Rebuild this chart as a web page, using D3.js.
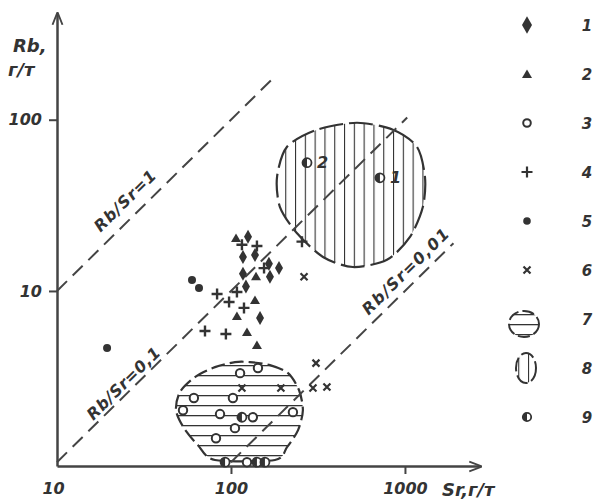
<!DOCTYPE html>
<html>
<head>
<meta charset="utf-8">
<script src="https://cdn.jsdelivr.net/npm/d3@7"></script>
<style>
body { margin: 0; background: #fff; }
text { font-family: "DejaVu Sans", sans-serif; font-style: oblique; font-weight: bold; fill: #333; }
</style>
</head>
<body>
<svg width="597" height="500"></svg>
<script>
// values: [Sr, Rb] in г/т
var diamonds = [[125.3, 20.7], [117.2, 15.8], [137.4, 16.2], [117.2, 12.6], [165.2, 14.4],
                [188.8, 13.6], [167.5, 12.1], [121.9, 10.6], [146.9, 6.95]];
var triangles = [[106.9, 20.4], [139.3, 12.2], [137.4, 8.86], [108.2, 7.14], [123.6, 5.76], [141, 4.83]];
var openCircles = [[112.8, 3.31], [142.9, 3.55], [61.2, 2.37], [102.6, 2.37], [53.0, 2.01], [86.5, 1.91],
                   [133.6, 1.83], [227, 1.96], [105.4, 1.58], [82.0, 1.38], [123.6, 1.0]];
var pluses = [[115.6, 18.6], [141, 18.3], [154.9, 13.6], [83.2, 9.6], [97.5, 8.62], [108.2, 9.87],
              [118.8, 7.96], [70.9, 5.84], [93.5, 5.60], [255.9, 19.4]];
var dots = [[59.7, 11.6], [65.5, 10.4], [19.4, 4.64]];
var crosses = [[263, 12.1], [308, 3.79], [296, 2.71], [356, 2.75], [115.6, 2.71], [193.6, 2.71]];
var halfCircles = [[115.6, 1.83], [92.5, 1.0], [141, 1.0], [156.7, 1.0], [273.5, 56.1], [718, 45.8]];
var halfLabels = ["", "", "", "", "2", "1"];

// outlines of the two hatched fields
var field7 = [[128.5, 3.84], [167.5, 3.69], [212.8, 3.31], [246, 2.64], [259, 2.01], [243, 1.54],
              [210, 1.224], [179, 1.03], [80.9, 1.03], [64.6, 1.257], [53.7, 1.58], [48.3, 2.01],
              [50.9, 2.57], [62.1, 3.14], [80.9, 3.59], [105.4, 3.84]];
var field8 = [[530, 96.0], [853, 87.4], [1172, 69.5], [1303, 46.4], [1268, 31.0], [1069, 20.7],
              [788, 15.2], [502, 13.8], [338, 15.8], [239, 21.8], [191, 31.0], [184, 46.4],
              [210, 69.5], [312, 87.4]];

// Rb/Sr reference lines
var ratios = [1, 0.1, 0.01];
var ratioFrom = [10, 10, 100];
var ratioTo = [174, 1030, 1900];
var ratioLabels = ["Rb/Sr=1", "Rb/Sr=0,1", "Rb/Sr=0,01"];
var ratioLabelAt = [28.8, 26.4, 1148];

var xTicks = [10, 100, 1000];
var yTicks = [10, 100];
var legendLabels = ["1", "2", "3", "4", "5", "6", "7", "8", "9"];

var svg = d3.select("svg");
var ink = "#333";

var x = d3.scaleLog().domain([10, 2700]).range([57, 480]);
var y = d3.scaleLog().domain([0.95, 420]).range([466, 13]);

var defs = svg.append("defs");
defs.append("marker")
    .attr("id", "arrow")
    .attr("viewBox", "0 -5 10 10")
    .attr("refX", 9).attr("refY", 0)
    .attr("markerWidth", 5).attr("markerHeight", 5)
    .attr("orient", "auto")
    .append("path")
    .attr("d", "M0,-4L10,0L0,4")
    .attr("fill", "none").attr("stroke", "#444").attr("stroke-width", 1.5);

var hatchH = defs.append("pattern")
    .attr("id", "hatchH").attr("patternUnits", "userSpaceOnUse")
    .attr("width", 10).attr("height", 10).attr("y", 5);
hatchH.append("line").attr("x1", 0).attr("x2", 10).attr("y1", 0).attr("y2", 0)
    .attr("stroke", ink).attr("stroke-width", 2.6);
var hatchV = defs.append("pattern")
    .attr("id", "hatchV").attr("patternUnits", "userSpaceOnUse")
    .attr("width", 9.8).attr("height", 10).attr("x", 1);
hatchV.append("line").attr("x1", 0).attr("x2", 0).attr("y1", 0).attr("y2", 10)
    .attr("stroke", ink).attr("stroke-width", 2.2);

// fields
var outline = d3.line()
    .x(function(d) { return x(d[0]); })
    .y(function(d) { return y(d[1]); })
    .curve(d3.curveCardinalClosed.tension(0.2));

svg.append("path")
    .attr("d", outline(field7))
    .attr("fill", "url(#hatchH)")
    .attr("stroke", ink).attr("stroke-width", 2.2)
    .attr("stroke-dasharray", "14,5");
svg.append("path")
    .attr("d", outline(field8))
    .attr("fill", "url(#hatchV)")
    .attr("stroke", ink).attr("stroke-width", 2.2)
    .attr("stroke-dasharray", "24,6");

// ratio lines
var lines = svg.append("g").attr("class", "ratios");
ratios.forEach(function(r, i) {
    lines.append("line")
        .attr("x1", x(ratioFrom[i])).attr("y1", y(ratioFrom[i] * r))
        .attr("x2", x(ratioTo[i])).attr("y2", y(ratioTo[i] * r))
        .attr("stroke", "#444").attr("stroke-width", 2)
        .attr("stroke-dasharray", "14,8");
    var s = ratioLabelAt[i],
        px = x(s), py = y(s * r),
        ang = Math.atan2(y(s * 10 * r) - py, x(s * 10) - px) * 180 / Math.PI;
    lines.append("text")
        .attr("transform", "translate(" + px + "," + py + ") rotate(" + ang + ")")
        .attr("y", [-11, -4, -8][i])
        .attr("text-anchor", "middle")
        .attr("font-size", 16)
        .attr("letter-spacing", [1, 0.6, 1.4][i])
        .text(ratioLabels[i]);
});

// axes
var xAxis = svg.append("g")
    .attr("transform", "translate(0," + y.range()[0] + ")")
    .call(d3.axisBottom(x).tickValues(xTicks).tickSize(8).tickSizeOuter(0).tickPadding(9)
          .tickFormat(function(d) { return d; }));
var yAxis = svg.append("g")
    .attr("transform", "translate(" + x.range()[0] + ",0)")
    .call(d3.axisLeft(y).tickValues(yTicks).tickSize(8).tickSizeOuter(0).tickPadding(7)
          .tickFormat(function(d) { return d; }));
[xAxis, yAxis].forEach(function(a) {
    a.select(".domain").attr("stroke", "#444").attr("stroke-width", 2.5).attr("marker-end", "url(#arrow)");
    a.selectAll(".tick line").attr("stroke", "#444").attr("stroke-width", 2);
    a.selectAll(".tick text").attr("font-size", 16).attr("font-family", null).attr("fill", ink);
});
xAxis.selectAll(".tick").filter(function(d) { return d === 10; }).select("line").remove();
xAxis.selectAll(".tick").filter(function(d) { return d === 10; }).select("text").attr("dx", -4);

svg.append("text").attr("x", 13).attr("y", 52).attr("font-size", 18).text("Rb,");
svg.append("text").attr("x", 8).attr("y", 76).attr("font-size", 18).text("г/т");
svg.append("text").attr("x", 442).attr("y", 496).attr("font-size", 18).text("Sr,г/т");

// marker shapes
var shapes = {
    diamond: "M0,-7L4,0L0,7L-4,0Z",
    triangle: "M0,-4.5L5,4L-5,4Z",
    plus: "M-5.5,0H5.5M0,-5.5V5.5",
    cross: "M-3.5,-3.5L3.5,3.5M3.5,-3.5L-3.5,3.5"
};

function place(d) { return "translate(" + x(d[0]) + "," + y(d[1]) + ")"; }

var marks = svg.append("g").attr("class", "marks");
marks.selectAll(".dia").data(diamonds).enter().append("path")
    .attr("d", shapes.diamond).attr("transform", place).attr("fill", ink);
marks.selectAll(".tri").data(triangles).enter().append("path")
    .attr("d", shapes.triangle).attr("transform", place).attr("fill", ink);
marks.selectAll(".plus").data(pluses).enter().append("path")
    .attr("d", shapes.plus).attr("transform", place)
    .attr("stroke", ink).attr("stroke-width", 2.4).attr("fill", "none");
marks.selectAll(".crs").data(crosses).enter().append("path")
    .attr("d", shapes.cross).attr("transform", place)
    .attr("stroke", ink).attr("stroke-width", 2.2).attr("fill", "none");
marks.selectAll(".dot").data(dots).enter().append("circle")
    .attr("transform", place).attr("r", 4).attr("fill", ink);
marks.selectAll(".open").data(openCircles).enter().append("circle")
    .attr("transform", place).attr("r", 4.2).attr("fill", "#fff")
    .attr("stroke", ink).attr("stroke-width", 2);

function halfCircle(sel, r) {
    sel.append("circle").attr("r", r).attr("fill", "#fff").attr("stroke", ink).attr("stroke-width", 1.8);
    sel.append("path").attr("d", "M0," + (-r) + "A" + r + "," + r + " 0 0 0 0," + r + "Z").attr("fill", ink);
}
var half = marks.selectAll(".half").data(halfCircles).enter().append("g")
    .attr("transform", place);
halfCircle(half, 4.5);
half.append("text")
    .attr("x", 10).attr("y", 5)
    .attr("font-size", 16)
    .text(function(d, i) { return halfLabels[i]; });

// legend
var ly = d3.scalePoint().domain(legendLabels).range([25, 417]);
var lx = 527;
var legend = svg.append("g").attr("class", "legend");
legendLabels.forEach(function(lab, i) {
    var g = legend.append("g").attr("transform", "translate(" + lx + "," + ly(lab) + ")");
    if (i === 0) g.append("path").attr("d", shapes.diamond).attr("transform", "scale(1.25)").attr("fill", ink);
    if (i === 1) g.append("path").attr("d", shapes.triangle).attr("fill", ink);
    if (i === 2) g.append("circle").attr("r", 3.8).attr("fill", "#fff").attr("stroke", ink).attr("stroke-width", 2);
    if (i === 3) g.append("path").attr("d", shapes.plus).attr("stroke", ink).attr("stroke-width", 2.2);
    if (i === 4) g.append("circle").attr("r", 3.8).attr("fill", ink);
    if (i === 5) g.append("path").attr("d", shapes.cross).attr("stroke", ink).attr("stroke-width", 2.2);
    if (i === 6) g.append("ellipse").attr("cx", -3).attr("cy", 5).attr("rx", 15).attr("ry", 13)
        .attr("fill", "url(#hatchH)").attr("stroke", ink).attr("stroke-width", 2).attr("stroke-dasharray", "12,4");
    if (i === 7) g.append("ellipse").attr("cx", -1).attr("cy", 0).attr("rx", 10).attr("ry", 15)
        .attr("fill", "url(#hatchV)").attr("stroke", ink).attr("stroke-width", 2).attr("stroke-dasharray", "14,4");
    if (i === 8) halfCircle(g, 4.2);
    legend.append("text")
        .attr("x", 587).attr("y", ly(lab) + 6)
        .attr("text-anchor", "middle")
        .attr("font-size", 15)
        .text(lab);
});
</script>
</body>
</html>
